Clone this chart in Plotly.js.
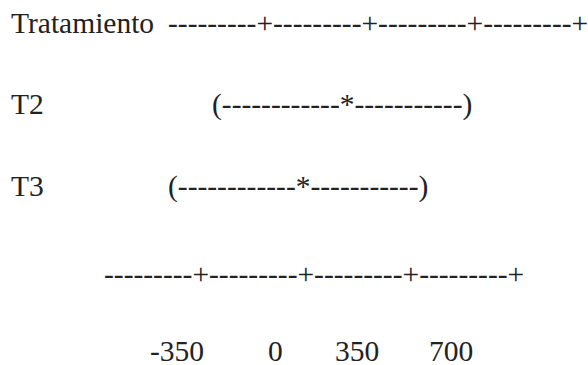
<!DOCTYPE html>
<html>
<head>
<meta charset="utf-8">
<script src="https://cdn.plot.ly/plotly-3.0.1.min.js"></script>
<style>
html,body{margin:0;padding:0;background:#fff;}
#chart{width:588px;height:365px;}
</style>
</head>
<body>
<div id="chart"></div>
<script>
// Data (Minitab-style interval display)
const headerLabel = "Tratamiento";
const categories = ["T2", "T3"];
const scaleLine = "---------+---------+---------+---------+";
const intervals = ["(------------*-----------)", "(------------*-----------)"];
const tickLabels = ["-350", "0", "350", "700"];

// Layout positions (pixels in a 588x365 frame)
const rowY = [26, 107, 189, 277, 354];
const headerX = [11, 168];
const catLabelX = 11;
const intervalX = [212, 168];
const scaleX = 104;
const tickLabelX = [150, 268, 335, 429];

const xs = [], ys = [], ts = [];
function put(x, y, t) { xs.push(x); ys.push(y); ts.push(t); }

put(headerX[0], rowY[0], headerLabel);
put(headerX[1], rowY[0], scaleLine);
categories.forEach((c, i) => {
  put(catLabelX, rowY[1 + i], c);
  put(intervalX[i], rowY[1 + i], intervals[i]);
});
put(scaleX, rowY[3], scaleLine);
tickLabels.forEach((t, i) => put(tickLabelX[i], rowY[4], t));

const trace = {
  type: "scatter",
  mode: "text",
  x: xs, y: ys, text: ts,
  textposition: "middle right",
  textfont: {family: "Liberation Serif", size: 29.5, color: "#222"},
  showlegend: false
};

const layout = {
  width: 588, height: 365,
  margin: {l: 0, r: 0, t: 0, b: 0},
  paper_bgcolor: "#fff", plot_bgcolor: "#fff",
  xaxis: {range: [0, 588], visible: false},
  yaxis: {range: [365, 0], visible: false},
  showlegend: false
};

Plotly.newPlot("chart", [trace], layout, {staticPlot: true});
</script>
</body>
</html>
